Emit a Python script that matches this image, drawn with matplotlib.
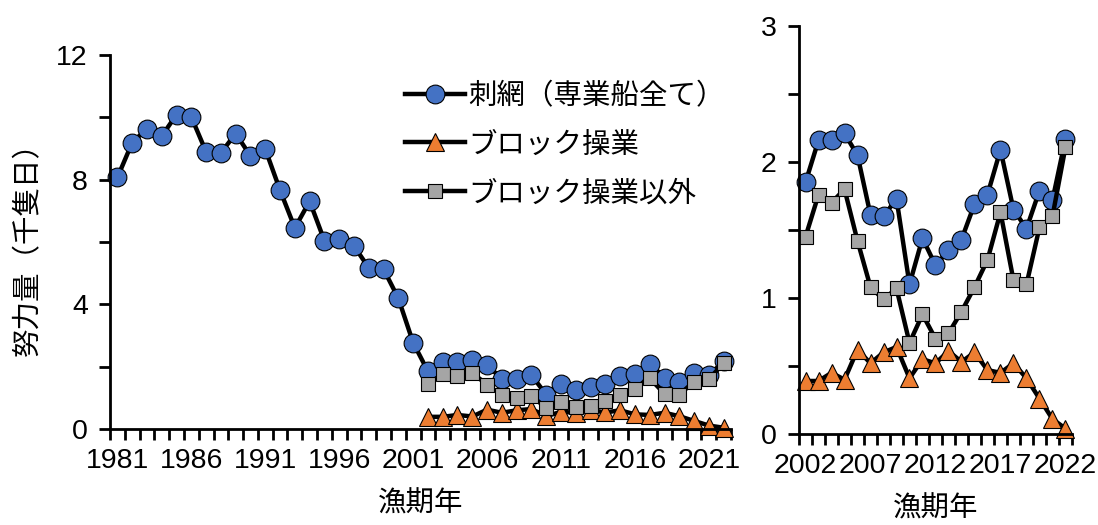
import matplotlib
matplotlib.use("Agg")
import matplotlib.pyplot as plt
from matplotlib.ticker import MultipleLocator, FixedLocator

plt.rcParams['font.family'] = ['Liberation Sans', 'Noto Sans CJK JP', 'DejaVu Sans']
plt.rcParams['font.size'] = 20.5

# 漁期年
years_all = list(range(1981, 2023))
years_recent = list(range(2002, 2023))

# 刺網（専業船全て） 1981-2001
gill_early = [8.07, 9.19, 9.64, 9.40, 10.09, 10.01, 8.89, 8.86, 9.48, 8.76, 8.98,
              7.66, 6.45, 7.31, 6.04, 6.09, 5.87, 5.17, 5.13, 4.19, 2.77]
# 刺網（専業船全て） 2002-2022
gill_recent = [1.85, 2.16, 2.16, 2.21, 2.05, 1.61, 1.60, 1.73, 1.10, 1.44, 1.24,
               1.35, 1.43, 1.69, 1.76, 2.09, 1.65, 1.51, 1.79, 1.72, 2.17]
# ブロック操業 2002-2022
block = [0.39, 0.39, 0.45, 0.40, 0.62, 0.52, 0.60, 0.64, 0.41, 0.55, 0.52,
         0.61, 0.53, 0.60, 0.47, 0.45, 0.52, 0.41, 0.26, 0.11, 0.04]
# ブロック操業以外 2002-2022
nonblock = [1.45, 1.76, 1.70, 1.80, 1.42, 1.08, 0.99, 1.07, 0.67, 0.88, 0.70,
            0.74, 0.90, 1.08, 1.28, 1.63, 1.13, 1.10, 1.52, 1.60, 2.11]

gill_all = gill_early + gill_recent

labels = ['刺網（専業船全て）', 'ブロック操業', 'ブロック操業以外']
blue, orange, grey = '#4472C4', '#ED7D31', '#A5A5A5'

fig = plt.figure(figsize=(10.98, 5.25), dpi=100)
ax1 = fig.add_axes([0.1002, 0.1829, 0.5656, 0.7123])
ax2 = fig.add_axes([0.7277, 0.1733, 0.2486, 0.7772])

line_kw = dict(color='black', lw=3.2, mec='black', mew=0.8)


def draw(ax, x_gill, y_gill):
    ax.plot(x_gill, y_gill, marker='o', ms=13.5, mfc=blue, label=labels[0], **line_kw)
    ax.plot(years_recent, block, marker='^', ms=13, mfc=orange, label=labels[1], **line_kw)
    ax.plot(years_recent, nonblock, marker='s', ms=10.5, mfc=grey, label=labels[2], **line_kw)


def style(ax, first, last, label_years):
    for s in ['top', 'right']:
        ax.spines[s].set_visible(False)
    for s in ['left', 'bottom']:
        ax.spines[s].set_linewidth(2)
    ax.set_xlim(first - 0.5, last + 0.5)
    ax.xaxis.set_major_locator(FixedLocator(label_years))
    ax.xaxis.set_minor_locator(FixedLocator([y - 0.5 for y in range(first, last + 2)]))
    ax.tick_params(axis='x', which='major', length=0, pad=14)
    ax.tick_params(axis='x', which='minor', length=8, width=2, direction='out')
    ax.tick_params(axis='y', which='both', length=8, width=2, direction='out', pad=8)
    ax.set_xlabel('漁期年', labelpad=12)


draw(ax1, years_all, gill_all)
style(ax1, 1981, 2022, list(range(1981, 2023, 5)))
ax1.set_ylim(0, 12)
ax1.yaxis.set_major_locator(MultipleLocator(4))
ax1.yaxis.set_minor_locator(MultipleLocator(2))
ax1.set_ylabel('努力量（千隻日）', labelpad=10)
ax1.legend(loc='upper left', bbox_to_anchor=(0.369, 0.842), bbox_transform=fig.transFigure,
           frameon=False, handlelength=2.1, handletextpad=0.1, labelspacing=0.78,
           borderpad=0, borderaxespad=0)

draw(ax2, years_recent, gill_recent)
style(ax2, 2002, 2022, list(range(2002, 2023, 5)))
ax2.set_ylim(0, 3)
ax2.yaxis.set_major_locator(MultipleLocator(1))
ax2.yaxis.set_minor_locator(MultipleLocator(0.5))

for ax in (ax1, ax2):
    for ln in ax.get_lines():
        ln.set_clip_on(False)

fig.savefig('out.png', dpi=100)
